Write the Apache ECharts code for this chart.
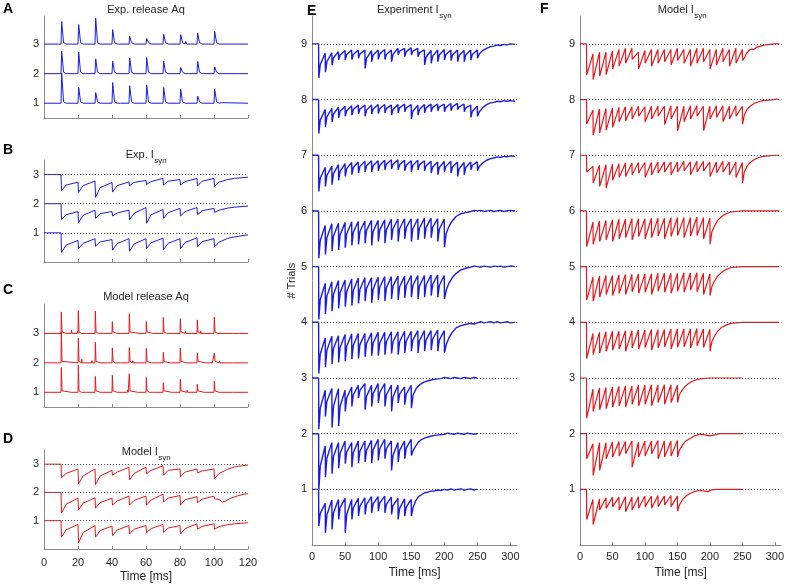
<!DOCTYPE html>
<html><head><meta charset="utf-8">
<script src="https://cdn.jsdelivr.net/npm/echarts@6/dist/echarts.min.js"></script>
<style>html,body{margin:0;padding:0;background:#fff}#c{width:787px;height:584px}</style>
</head><body><div id="c"></div>
<script>
// ---------- stimulus times (ms) ----------
const stimAD = [10,20,30,40,50,60,70,80,90,100];
const stimE15 = [10,20,30,40,50,60,70,80,90,100,110,120,130,140,150];
const stimE20 = [10,20,30,40,50,60,70,80,90,100,110,120,130,140,150,160,170,180,190,200];
const stimE25 = [10,20,30,40,50,60,70,80,90,100,110,120,130,140,150,160,170,180,190,200,210,220,230,240,250];
const trialsAD = [1,2,3];
const trialsEF = [1,2,3,4,5,6,7,8,9];
const ticksX120 = [0,20,40,60,80,100,120];
const ticksX300 = [0,50,100,150,200,250,300];

// ---------- A: experimental release (spike heights above trial line) ----------
const A1_h = [1.02,0.54,0.36,0.70,0.59,0.62,0.53,0.47,0.24,0.47];
const A2_h = [0.76,0.73,0.50,0.42,0.53,0.54,0.43,0.21,0.41,0.23];
const A3_h = [0.76,0.66,0.87,0.49,0.27,0.19,0.33,0.32,0.37,0.43];
const A1_small = [[45,0.05],[104,0.02]];
const A2_small = [[85,0.02],[114,0.03]];
const A3_small = [[83,0.09],[113,0.02]];

// ---------- C: model release ----------
const C1_h = [0.84,0.93,0.54,0.58,0.63,0.50,0.33,0.44,0.27,0.38];
const C2_h = [1.05,0.84,0.70,0.51,0.52,0.49,0.36,0.50,0.33,0.33];
const C3_h = [0.73,0.78,0.76,0.40,0.67,0.40,0.54,0.50,0.46,0.56];
const C1_small = [[16,0.06],[22,0.05],[25,0.04],[33,0.05],[37,0.04],[43,0.06],[46,0.05],[49,0.08],[55,0.05],[62,0.04],[64,0.05],[75,0.04],[77,0.05],[84,0.07],[86,0.05],[94,0.04],[103,0.03],[111,0.02]];
const C2_small = [[22,0.12],[28,0.08],[33,0.06],[37,0.05],[42,0.04],[45,0.05],[52,0.07],[56,0.05],[63,0.04],[66,0.05],[74,0.03],[84,0.05],[91,0.06],[95,0.04],[99,0.05],[101,0.09],[103,0.07],[107,0.04],[111,0.03],[117,0.02]];
const C3_small = [[13,0.05],[16,0.11],[19.5,0.08],[22,0.06],[25,0.04],[32,0.06],[35,0.04],[43,0.05],[47,0.04],[51,0.06],[56,0.05],[64,0.03],[72,0.05],[76,0.06],[83,0.07],[87,0.05],[92,0.08],[94,0.06],[102,0.04],[111,0.03],[115,0.02]];

// ---------- B: experimental Isyn (offsets from trial line) ----------
const B1_pre = [0,-0.26,-0.20,-0.23,-0.20,-0.20,-0.18,-0.20,-0.17,-0.20];
const B1_tr  = [-0.67,-0.54,-0.46,-0.59,-0.63,-0.54,-0.59,-0.54,-0.48,-0.48];
const B1_mid = [-0.42,-0.36,-0.31,-0.37,-0.38,-0.34,-0.36,-0.33,-0.30,-0.32];
const B1_tail = [[104,-0.27],[108,-0.19],[112,-0.14],[116,-0.10],[120,-0.07]];
const B2_pre = [0,-0.27,-0.22,-0.27,-0.22,-0.13,-0.20,-0.16,-0.13,-0.16];
const B2_tr  = [-0.55,-0.65,-0.50,-0.42,-0.55,-0.67,-0.50,-0.42,-0.38,-0.30];
const B2_mid = [-0.38,-0.40,-0.34,-0.32,-0.33,-0.38,-0.31,-0.27,-0.24,-0.22];
const B2_tail = [[104,-0.19],[108,-0.15],[112,-0.12],[116,-0.10],[120,-0.08]];
const B3_pre = [0,-0.26,-0.22,-0.27,-0.25,-0.20,-0.13,-0.17,-0.13,-0.13];
const B3_tr  = [-0.55,-0.61,-0.78,-0.60,-0.38,-0.34,-0.36,-0.36,-0.39,-0.41];
const B3_mid = [-0.36,-0.38,-0.45,-0.38,-0.27,-0.24,-0.23,-0.24,-0.23,-0.26];
const B3_tail = [[104,-0.23],[108,-0.17],[112,-0.13],[116,-0.11],[120,-0.09]];

// ---------- D: model Isyn ----------
const D1_pre = [0,-0.13,-0.17,-0.19,-0.17,-0.17,-0.13,-0.17,-0.11,-0.11];
const D1_tr  = [-0.58,-0.79,-0.58,-0.53,-0.47,-0.42,-0.42,-0.47,-0.30,-0.30];
const D1_mid = [-0.32,-0.42,-0.35,-0.33,-0.30,-0.28,-0.26,-0.28,-0.20,-0.21];
const D1_tail = [[104,-0.19],[108,-0.14],[112,-0.11],[116,-0.09],[120,-0.07]];
const D2_pre = [0,-0.20,-0.19,-0.20,-0.13,-0.13,-0.06,-0.11,-0.15,-0.13];
const D2_tr  = [-0.73,-0.62,-0.56,-0.45,-0.45,-0.45,-0.34,-0.45,-0.36,-0.22];
const D2_mid = [-0.42,-0.38,-0.36,-0.30,-0.28,-0.27,-0.20,-0.26,-0.24,-0.25];
const D2_tail = [[105,-0.34],[107,-0.30],[110,-0.20],[114,-0.12],[117,-0.07],[120,-0.04]];
const D3_pre = [0,-0.17,-0.17,-0.22,-0.11,-0.11,-0.06,-0.17,-0.17,-0.17];
const D3_tr  = [-0.48,-0.70,-0.73,-0.39,-0.56,-0.34,-0.39,-0.45,-0.31,-0.51];
const D3_mid = [-0.33,-0.42,-0.42,-0.28,-0.33,-0.22,-0.22,-0.28,-0.24,-0.33];
const D3_tail = [[104,-0.30],[108,-0.18],[112,-0.10],[116,-0.06],[120,-0.03]];

// ---------- E: experiment Isyn, 9 trials (pre-event level, trough, level 2.5 ms after event) ----------
const E1_tr  = [-0.66,-0.78,-0.72,-0.54,-0.78,-0.54,-0.48,-0.45,-0.42,-0.39,-0.42,-0.45,-0.54,-0.48,-0.48];
const E1_pre = [0,-0.25,-0.19,-0.18,-0.16,-0.18,-0.16,-0.15,-0.13,-0.13,-0.12,-0.14,-0.16,-0.17,-0.18];
const E1_mid = [-0.43,-0.46,-0.42,-0.33,-0.45,-0.33,-0.30,-0.27,-0.26,-0.24,-0.27,-0.29,-0.34,-0.32];
const E1_tail = [[153,-0.32],[157,-0.20],[161,-0.13],[165,-0.10],[170,-0.06],[175,-0.05],[180,-0.03],[185,-0.03],[190,-0.01],[195,-0.02],[200,0],[205,-0.01],[210,0.01],[215,-0.01],[220,0],[225,0.01],[230,-0.01],[235,0],[240,0.01],[245,-0.01],[250,0]];
const E2_tr  = [-1.01,-0.78,-0.72,-0.62,-0.54,-0.60,-0.53,-0.51,-0.53,-0.48,-0.45,-0.66,-0.51,-0.45,-0.39];
const E2_pre = [0,-0.22,-0.16,-0.16,-0.13,-0.16,-0.13,-0.13,-0.12,-0.10,-0.10,-0.13,-0.16,-0.13,-0.10];
const E2_mid = [-0.58,-0.44,-0.41,-0.35,-0.33,-0.34,-0.31,-0.30,-0.29,-0.27,-0.27,-0.39,-0.30,-0.26];
const E2_tail = [[153,-0.30],[157,-0.22],[161,-0.15],[166,-0.10],[172,-0.07],[178,-0.05],[185,-0.03],[192,-0.02],[200,-0.01],[205,0.01],[210,0],[215,-0.01],[220,0.01],[225,0],[230,-0.01],[235,0.01],[240,0],[245,-0.01],[250,0]];
const E3_tr  = [-0.92,-0.69,-0.89,-0.86,-0.60,-0.51,-0.36,-0.57,-0.51,-0.45,-0.51,-0.60,-0.45,-0.48,-0.54];
const E3_pre = [0,-0.22,-0.19,-0.19,-0.22,-0.16,-0.13,-0.10,-0.13,-0.10,-0.10,-0.13,-0.13,-0.16,-0.13];
const E3_mid = [-0.54,-0.42,-0.51,-0.51,-0.36,-0.30,-0.22,-0.33,-0.28,-0.26,-0.30,-0.34,-0.29,-0.29];
const E3_tail = [[153,-0.30],[158,-0.18],[163,-0.12],[170,-0.07],[178,-0.04],[186,-0.02],[195,-0.01],[200,0.01],[205,0],[210,-0.01],[215,0.01],[220,0],[225,-0.01],[230,0.01],[235,0],[240,-0.01],[245,0.01],[250,0]];
const E4_tr  = [-0.92,-0.80,-0.75,-0.72,-0.70,-0.66,-0.65,-0.62,-0.60,-0.60,-0.58,-0.56,-0.58,-0.55,-0.52,-0.55,-0.52,-0.50,-0.52,-0.55];
const E4_pre = [0,-0.28,-0.25,-0.24,-0.22,-0.21,-0.20,-0.20,-0.19,-0.18,-0.18,-0.17,-0.17,-0.16,-0.16,-0.15,-0.15,-0.15,-0.14,-0.15];
const E4_mid = [-0.57,-0.50,-0.47,-0.45,-0.43,-0.41,-0.40,-0.38,-0.37,-0.37,-0.35,-0.35,-0.35,-0.34,-0.32,-0.33,-0.32,-0.30,-0.32];
const E4_tail = [[203,-0.40],[207,-0.28],[212,-0.18],[218,-0.10],[225,-0.06],[232,-0.04],[240,-0.02],[245,-0.03],[250,-0.01],[255,0.01],[260,-0.01],[265,0],[270,0.01],[275,-0.01],[280,0.01],[285,-0.01],[290,0],[295,0.01],[300,-0.01],[307,0]];
const E5_tr  = [-0.95,-0.85,-0.80,-0.75,-0.72,-0.70,-0.66,-0.62,-0.65,-0.60,-0.62,-0.58,-0.60,-0.56,-0.55,-0.58,-0.55,-0.52,-0.55,-0.58];
const E5_pre = [0,-0.30,-0.27,-0.25,-0.24,-0.22,-0.21,-0.20,-0.20,-0.19,-0.18,-0.18,-0.17,-0.17,-0.16,-0.16,-0.16,-0.15,-0.15,-0.16];
const E5_mid = [-0.59,-0.53,-0.50,-0.47,-0.45,-0.43,-0.41,-0.39,-0.40,-0.37,-0.38,-0.35,-0.36,-0.34,-0.34,-0.35,-0.33,-0.32,-0.34];
const E5_tail = [[203,-0.42],[207,-0.30],[212,-0.20],[218,-0.12],[225,-0.06],[232,-0.03],[240,-0.01],[245,0.01],[250,0],[255,-0.01],[260,0.01],[265,0],[270,-0.01],[275,0.01],[280,0],[285,0.01],[290,-0.01],[295,0],[300,0.01],[307,0]];
const E6_tr  = [-0.85,-0.78,-0.72,-0.70,-0.66,-0.62,-0.60,-0.58,-0.62,-0.55,-0.58,-0.52,-0.55,-0.50,-0.55,-0.52,-0.50,-0.48,-0.55,-0.65];
const E6_pre = [0,-0.26,-0.23,-0.22,-0.21,-0.20,-0.19,-0.18,-0.17,-0.17,-0.16,-0.15,-0.15,-0.14,-0.14,-0.14,-0.13,-0.13,-0.14,-0.15];
const E6_mid = [-0.53,-0.48,-0.45,-0.43,-0.41,-0.38,-0.37,-0.35,-0.37,-0.34,-0.34,-0.32,-0.32,-0.30,-0.32,-0.31,-0.30,-0.29,-0.33];
const E6_tail = [[203,-0.40],[207,-0.28],[212,-0.18],[218,-0.10],[225,-0.05],[232,-0.03],[240,-0.01],[245,0.01],[250,0],[255,0.01],[260,-0.01],[265,0],[270,0.01],[275,-0.01],[280,0],[285,0.01],[290,-0.01],[295,0],[300,0.01],[307,0]];
const E7_tr  = [-0.65,-0.56,-0.53,-0.45,-0.38,-0.35,-0.32,-0.30,-0.30,-0.28,-0.26,-0.25,-0.26,-0.28,-0.30,-0.26,-0.28,-0.32,-0.35,-0.30,-0.32,-0.38,-0.35,-0.26,-0.28];
const E7_pre = [0,-0.22,-0.20,-0.17,-0.15,-0.13,-0.12,-0.11,-0.10,-0.10,-0.09,-0.08,-0.08,-0.09,-0.10,-0.09,-0.10,-0.11,-0.12,-0.11,-0.11,-0.12,-0.13,-0.12,-0.12];
const E7_mid = [-0.41,-0.36,-0.33,-0.29,-0.24,-0.22,-0.20,-0.19,-0.19,-0.18,-0.16,-0.16,-0.17,-0.18,-0.18,-0.17,-0.19,-0.21,-0.22,-0.20,-0.21,-0.24,-0.22,-0.18];
const E7_tail = [[253,-0.20],[258,-0.14],[264,-0.09],[270,-0.06],[275,-0.05],[280,-0.03],[285,-0.04],[290,-0.02],[295,-0.03],[300,-0.01],[307,-0.02]];
const E8_tr  = [-0.61,-0.49,-0.40,-0.33,-0.30,-0.28,-0.26,-0.30,-0.26,-0.25,-0.24,-0.28,-0.24,-0.22,-0.35,-0.28,-0.24,-0.22,-0.20,-0.22,-0.20,-0.18,-0.22,-0.32,-0.30];
const E8_pre = [0,-0.18,-0.16,-0.14,-0.12,-0.11,-0.10,-0.10,-0.10,-0.09,-0.09,-0.10,-0.09,-0.08,-0.09,-0.10,-0.09,-0.08,-0.08,-0.08,-0.07,-0.07,-0.08,-0.10,-0.12];
const E8_mid = [-0.37,-0.31,-0.26,-0.21,-0.20,-0.18,-0.17,-0.19,-0.17,-0.16,-0.16,-0.18,-0.15,-0.15,-0.21,-0.18,-0.15,-0.14,-0.13,-0.14,-0.13,-0.13,-0.15,-0.21];
const E8_tail = [[253,-0.22],[258,-0.15],[264,-0.09],[270,-0.06],[275,-0.05],[280,-0.03],[285,-0.04],[290,-0.02],[295,-0.03],[300,-0.02],[307,-0.03]];
const E9_tr  = [-0.61,-0.51,-0.38,-0.29,-0.29,-0.28,-0.26,-0.44,-0.32,-0.28,-0.28,-0.32,-0.20,-0.23,-0.20,-0.23,-0.38,-0.35,-0.32,-0.29,-0.30,-0.32,-0.32,-0.29,-0.26];
const E9_pre = [0,-0.17,-0.16,-0.14,-0.12,-0.11,-0.11,-0.11,-0.12,-0.11,-0.10,-0.11,-0.08,-0.08,-0.07,-0.08,-0.11,-0.12,-0.11,-0.10,-0.11,-0.11,-0.12,-0.11,-0.11];
const E9_mid = [-0.37,-0.32,-0.25,-0.20,-0.19,-0.19,-0.18,-0.26,-0.20,-0.18,-0.19,-0.19,-0.13,-0.14,-0.13,-0.16,-0.24,-0.22,-0.20,-0.19,-0.20,-0.21,-0.20,-0.19];
const E9_tail = [[253,-0.18],[258,-0.12],[264,-0.08],[270,-0.05],[275,-0.04],[280,-0.02],[285,-0.03],[290,-0.01],[295,-0.02],[300,0],[307,-0.01]];

// ---------- F: model Isyn, 9 trials ----------
const F1_tr  = [-0.54,-0.63,-0.37,-0.34,-0.31,-0.37,-0.40,-0.37,-0.34,-0.31,-0.34,-0.31,-0.28,-0.31,-0.39];
const F1_pre = [0,-0.18,-0.17,-0.15,-0.14,-0.14,-0.13,-0.14,-0.13,-0.12,-0.12,-0.11,-0.12,-0.11,-0.12];
const F1_tail = [[153,-0.28],[158,-0.18],[163,-0.12],[170,-0.07],[178,-0.03],[185,-0.02],[192,-0.03],[197,-0.04],[202,-0.01],[210,0],[250,0]];
const F2_tr  = [-0.45,-0.75,-0.66,-0.45,-0.42,-0.40,-0.36,-0.60,-0.42,-0.40,-0.36,-0.45,-0.42,-0.40,-0.42];
const F2_pre = [0,-0.18,-0.16,-0.16,-0.15,-0.14,-0.14,-0.13,-0.15,-0.13,-0.13,-0.12,-0.13,-0.13,-0.12];
const F2_tail = [[153,-0.30],[158,-0.20],[163,-0.13],[170,-0.08],[178,-0.03],[185,-0.01],[193,-0.02],[200,-0.04],[207,-0.02],[215,0],[250,0]];
const F3_tr  = [-0.72,-0.60,-0.57,-0.55,-0.52,-0.50,-0.52,-0.47,-0.50,-0.47,-0.50,-0.44,-0.47,-0.44,-0.44];
const F3_pre = [0,-0.20,-0.18,-0.17,-0.16,-0.15,-0.14,-0.14,-0.13,-0.13,-0.12,-0.13,-0.12,-0.12,-0.13];
const F3_tail = [[153,-0.30],[157,-0.22],[162,-0.15],[168,-0.09],[175,-0.05],[182,-0.02],[190,-0.01],[200,0],[250,0]];
const F4_tr  = [-0.65,-0.58,-0.55,-0.52,-0.50,-0.48,-0.52,-0.46,-0.48,-0.45,-0.50,-0.46,-0.44,-0.48,-0.45,-0.44,-0.46,-0.42,-0.45,-0.52];
const F4_pre = [0,-0.20,-0.18,-0.17,-0.16,-0.16,-0.15,-0.15,-0.14,-0.14,-0.13,-0.13,-0.13,-0.12,-0.12,-0.12,-0.12,-0.11,-0.12,-0.13];
const F4_tail = [[203,-0.35],[207,-0.25],[212,-0.16],[218,-0.09],[225,-0.05],[232,-0.02],[240,-0.01],[250,0],[307,0]];
const F5_tr  = [-0.60,-0.62,-0.55,-0.50,-0.52,-0.48,-0.50,-0.45,-0.48,-0.46,-0.50,-0.44,-0.46,-0.48,-0.44,-0.46,-0.42,-0.45,-0.50,-0.52];
const F5_pre = [0,-0.19,-0.17,-0.16,-0.16,-0.15,-0.14,-0.14,-0.13,-0.13,-0.13,-0.12,-0.12,-0.12,-0.12,-0.11,-0.11,-0.11,-0.12,-0.13];
const F5_tail = [[203,-0.36],[207,-0.26],[212,-0.17],[218,-0.10],[225,-0.05],[232,-0.02],[240,-0.01],[250,0],[307,0]];
const F6_tr  = [-0.64,-0.60,-0.55,-0.52,-0.55,-0.50,-0.48,-0.52,-0.46,-0.50,-0.48,-0.45,-0.50,-0.46,-0.44,-0.48,-0.45,-0.44,-0.50,-0.60];
const F6_pre = [0,-0.20,-0.18,-0.17,-0.16,-0.15,-0.15,-0.14,-0.14,-0.14,-0.13,-0.13,-0.13,-0.12,-0.12,-0.12,-0.12,-0.11,-0.12,-0.13];
const F6_tail = [[203,-0.38],[207,-0.27],[212,-0.17],[218,-0.10],[225,-0.05],[232,-0.02],[240,-0.01],[250,0],[307,0]];
const F7_tr  = [-0.30,-0.50,-0.56,-0.59,-0.45,-0.40,-0.38,-0.35,-0.32,-0.40,-0.35,-0.32,-0.30,-0.35,-0.30,-0.28,-0.35,-0.30,-0.28,-0.38,-0.32,-0.30,-0.35,-0.40,-0.50];
const F7_pre = [0,-0.20,-0.18,-0.17,-0.16,-0.15,-0.14,-0.14,-0.13,-0.13,-0.13,-0.12,-0.12,-0.12,-0.12,-0.11,-0.12,-0.11,-0.11,-0.12,-0.12,-0.11,-0.12,-0.12,-0.13];
const F7_tail = [[253,-0.30],[257,-0.20],[262,-0.13],[268,-0.08],[275,-0.04],[282,-0.02],[290,-0.01],[300,0],[307,0]];
const F8_tr  = [-0.44,-0.64,-0.60,-0.55,-0.50,-0.40,-0.38,-0.35,-0.30,-0.40,-0.35,-0.30,-0.45,-0.35,-0.56,-0.40,-0.35,-0.30,-0.56,-0.35,-0.32,-0.40,-0.35,-0.30,-0.44];
const F8_pre = [0,-0.19,-0.17,-0.16,-0.15,-0.14,-0.13,-0.13,-0.12,-0.13,-0.12,-0.12,-0.12,-0.11,-0.12,-0.12,-0.11,-0.11,-0.12,-0.12,-0.11,-0.11,-0.12,-0.11,-0.12];
const F8_tail = [[253,-0.28],[257,-0.18],[262,-0.12],[268,-0.07],[275,-0.04],[282,-0.02],[290,-0.01],[298,0],[303,0.01],[307,0]];
const F9_tr  = [-0.56,-0.64,-0.58,-0.55,-0.45,-0.40,-0.35,-0.28,-0.45,-0.35,-0.40,-0.35,-0.32,-0.38,-0.30,-0.35,-0.40,-0.35,-0.32,-0.45,-0.38,-0.32,-0.40,-0.35,-0.30];
const F9_pre = [0,-0.18,-0.15,-0.15,-0.13,-0.10,-0.08,-0.08,-0.15,-0.12,-0.10,-0.10,-0.10,-0.10,-0.08,-0.10,-0.10,-0.08,-0.08,-0.10,-0.10,-0.08,-0.10,-0.08,-0.10];
const F9_tail = [[253,-0.25],[257,-0.16],[262,-0.10],[265,-0.09],[268,-0.10],[272,-0.06],[278,-0.04],[285,-0.02],[292,-0.01],[300,0],[307,0]];

// ---------- styling ----------
const BLUE = '#1c1ce0';
const RED = '#e3191e';
const FONT = '"Liberation Sans", Arial, Helvetica, sans-serif';
const AXC = '#8a8a8a';
const TXC = '#262626';

// ---------- builders ----------
function spikes(level, times, heights, small, shape) {
  const ev = times.map((t, i) => [t, heights[i], 1]).concat(small.map(s => [s[0], s[1], 0]));
  ev.sort((a, b) => a[0] - b[0]);
  const pts = [[0, level]];
  ev.forEach(e => {
    const t = e[0], h = e[1];
    pts.push([t, level]);
    pts.push([t + shape[0], level + h]);
    if (e[2]) { pts.push([t + shape[1], level + 0.05]); pts.push([t + shape[2], level]); }
    else { pts.push([t + shape[0] * 2.5, level]); }
  });
  pts.push([120, level]);
  return pts;
}
function saw(level, stim, pre, tr, mid, midDt, tail) {
  const pts = [[0, level]];
  for (let i = 0; i < stim.length; i++) {
    pts.push([stim[i], level + pre[i]]);
    pts.push([stim[i] + 0.3, level + tr[i]]);
    if (mid && i < mid.length) pts.push([stim[i] + midDt, level + mid[i]]);
  }
  tail.forEach(p => pts.push([p[0], level + p[1]]));
  return pts;
}

const series = [];
function addLine(g, data, color, width) {
  series.push({ type: 'line', xAxisIndex: g, yAxisIndex: g, data: data, showSymbol: false, symbol: 'none',
    lineStyle: { color: color, width: width }, animation: false, silent: true, z: 3 });
}
function addDots(g, levels) {
  series.push({ type: 'line', xAxisIndex: g, yAxisIndex: g, data: [], z: 1, silent: true, animation: false,
    markLine: { silent: true, symbol: 'none', label: { show: false }, animation: false,
      lineStyle: { type: [1, 2], color: '#555', width: 1 },
      data: levels.map(l => ({ yAxis: l })) } });
}

// A
addLine(0, spikes(1, stimAD, A1_h, A1_small, [0.4, 1.5, 3]), BLUE, 1);
addLine(0, spikes(2, stimAD, A2_h, A2_small, [0.4, 1.5, 3]), BLUE, 1);
addLine(0, spikes(3, stimAD, A3_h, A3_small, [0.4, 1.5, 3]), BLUE, 1);
// B
addDots(1, trialsAD);
addLine(1, saw(1, stimAD, B1_pre, B1_tr, B1_mid, 3, B1_tail), BLUE, 1);
addLine(1, saw(2, stimAD, B2_pre, B2_tr, B2_mid, 3, B2_tail), BLUE, 1);
addLine(1, saw(3, stimAD, B3_pre, B3_tr, B3_mid, 3, B3_tail), BLUE, 1);
// C
addLine(2, spikes(1, stimAD, C1_h, C1_small, [0.2, 0.6, 1.4]), RED, 1);
addLine(2, spikes(2, stimAD, C2_h, C2_small, [0.2, 0.6, 1.4]), RED, 1);
addLine(2, spikes(3, stimAD, C3_h, C3_small, [0.2, 0.6, 1.4]), RED, 1);
// D
addDots(3, trialsAD);
addLine(3, saw(1, stimAD, D1_pre, D1_tr, D1_mid, 3, D1_tail), RED, 1);
addLine(3, saw(2, stimAD, D2_pre, D2_tr, D2_mid, 3, D2_tail), RED, 1);
addLine(3, saw(3, stimAD, D3_pre, D3_tr, D3_mid, 3, D3_tail), RED, 1);
// E
addDots(4, trialsEF);
const Estim = [stimE15, stimE15, stimE15, stimE20, stimE20, stimE20, stimE25, stimE25, stimE25];
const Etr = [E1_tr, E2_tr, E3_tr, E4_tr, E5_tr, E6_tr, E7_tr, E8_tr, E9_tr];
const Epre = [E1_pre, E2_pre, E3_pre, E4_pre, E5_pre, E6_pre, E7_pre, E8_pre, E9_pre];
const Emid = [E1_mid, E2_mid, E3_mid, E4_mid, E5_mid, E6_mid, E7_mid, E8_mid, E9_mid];
const Etail = [E1_tail, E2_tail, E3_tail, E4_tail, E5_tail, E6_tail, E7_tail, E8_tail, E9_tail];
trialsEF.forEach((lv, i) => addLine(4, saw(lv, Estim[i], Epre[i], Etr[i], Emid[i], 2.5, Etail[i]), BLUE, 1.4));
// F
addDots(5, trialsEF);
const Ftr = [F1_tr, F2_tr, F3_tr, F4_tr, F5_tr, F6_tr, F7_tr, F8_tr, F9_tr];
const Fpre = [F1_pre, F2_pre, F3_pre, F4_pre, F5_pre, F6_pre, F7_pre, F8_pre, F9_pre];
const Ftail = [F1_tail, F2_tail, F3_tail, F4_tail, F5_tail, F6_tail, F7_tail, F8_tail, F9_tail];
trialsEF.forEach((lv, i) => addLine(5, saw(lv, Estim[i], Fpre[i], Ftr[i], null, 0, Ftail[i]), RED, 1.2));

// ---------- axes ----------
const grids = [
  { left: 44, top: 16, width: 204, height: 102 },
  { left: 44, top: 160, width: 204, height: 102 },
  { left: 44, top: 304, width: 204, height: 103 },
  { left: 44, top: 450, width: 204, height: 103 },
  { left: 312, top: 16, width: 205, height: 536 },
  { left: 580, top: 16, width: 205, height: 536 }
];
const yr = [[0.5, 3.95], [0, 3.5], [0.5, 4.0], [0, 3.5], [0, 9.5], [0, 9.5]];
const axLine = { show: true, onZero: false, lineStyle: { color: AXC, width: 1 } };
const xAxes = grids.map((g, i) => {
  const big = i >= 4;
  const showLab = (i === 3 || big);
  return {
    type: 'value', gridIndex: i, min: 0, max: big ? 310 : 120,
    axisLine: axLine,
    axisTick: { show: true, inside: true, length: 3, lineStyle: { color: AXC }, customValues: big ? ticksX300 : ticksX120 },
    axisLabel: { show: showLab, margin: big ? 6 : 8, color: TXC, fontSize: 11, fontFamily: FONT, customValues: big ? ticksX300 : ticksX120 },
    splitLine: { show: false },
    name: showLab ? 'Time [ms]' : '', nameLocation: 'middle', nameGap: big ? 20 : 22,
    nameTextStyle: { color: TXC, fontSize: 12, fontFamily: FONT }
  };
});
const yAxes = grids.map((g, i) => ({
  type: 'value', gridIndex: i, min: yr[i][0], max: yr[i][1],
  axisLine: axLine,
  axisTick: { show: false },
  axisLabel: { show: true, margin: 5, color: TXC, fontSize: 11, fontFamily: FONT, customValues: i >= 4 ? trialsEF : trialsAD },
  splitLine: { show: false },
  name: i === 4 ? '# Trials' : '', nameLocation: 'middle', nameGap: 14, nameRotate: 90,
  nameTextStyle: { color: TXC, fontSize: 11, fontFamily: FONT }
}));

// ---------- titles & panel letters ----------
const cv = document.createElement('canvas').getContext('2d');
function tw(txt, size) { cv.font = size + 'px ' + FONT; return cv.measureText(txt).width; }
const graphics = [];
function title(cx, cy, main, sub) {
  const w1 = tw(main, 11), w2 = sub ? tw(sub, 8) : 0;
  const x0 = cx - (w1 + w2) / 2;
  graphics.push({ type: 'text', x: x0, y: cy, silent: true,
    style: { text: main, font: '11px ' + FONT, fill: TXC, verticalAlign: 'middle' } });
  if (sub) graphics.push({ type: 'text', x: x0 + w1 + 0.5, y: cy + 5.5, silent: true,
    style: { text: sub, font: '8px ' + FONT, fill: TXC, verticalAlign: 'middle' } });
}
function letter(x, y, L) {
  graphics.push({ type: 'text', x: x, y: y, silent: true,
    style: { text: L, font: 'bold 14px ' + FONT, fill: '#000', verticalAlign: 'middle' } });
}
title(146, 10, 'Exp. release Aq');
title(146, 155, 'Exp. I', 'syn');
title(146, 297, 'Model release Aq');
title(146, 452, 'Model I', 'syn');
title(414, 10, 'Experiment I', 'syn');
title(682, 10, 'Model I', 'syn');
letter(3, 9, 'A');
letter(3, 150, 'B');
letter(3, 290, 'C');
letter(3, 439, 'D');
letter(307, 11, 'E');
letter(540, 9, 'F');

const chart = echarts.init(document.getElementById('c'), null, { renderer: 'canvas' });
chart.setOption({
  animation: false,
  backgroundColor: '#fff',
  grid: grids,
  xAxis: xAxes,
  yAxis: yAxes,
  series: series,
  graphic: graphics
});
</script></body></html>
